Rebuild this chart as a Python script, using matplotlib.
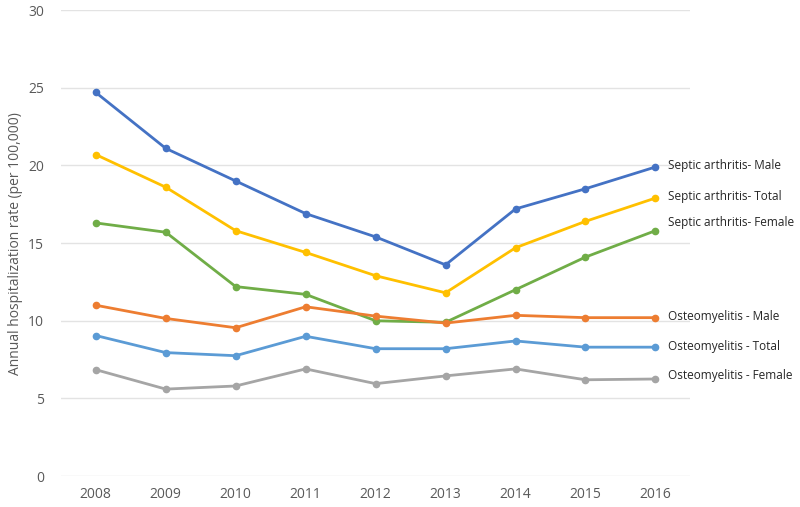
import matplotlib.pyplot as plt

plt.rcParams['font.family'] = ['Open Sans', 'DejaVu Sans']

# data
years = ['2008', '2009', '2010', '2011', '2012', '2013', '2014', '2015', '2016']
sa_male = [24.7, 21.1, 19.0, 16.9, 15.4, 13.6, 17.2, 18.5, 19.9]
sa_total = [20.7, 18.6, 15.8, 14.4, 12.9, 11.8, 14.7, 16.4, 17.9]
sa_female = [16.3, 15.7, 12.2, 11.7, 10.0, 9.9, 12.0, 14.1, 15.8]
os_male = [11.0, 10.15, 9.55, 10.9, 10.3, 9.85, 10.35, 10.2, 10.2]
os_total = [9.05, 7.95, 7.75, 9.0, 8.2, 8.2, 8.7, 8.3, 8.3]
os_female = [6.85, 5.6, 5.8, 6.9, 5.95, 6.45, 6.9, 6.2, 6.25]

names = ['Septic arthritis- Male', 'Septic arthritis- Total', 'Septic arthritis- Female',
         'Osteomyelitis - Male', 'Osteomyelitis - Total', 'Osteomyelitis - Female']
series = [sa_male, sa_total, sa_female, os_male, os_total, os_female]
colors = ['#4472C4', '#FFC000', '#70AD47', '#ED7D31', '#5B9BD5', '#A5A5A5']
label_y = [20.0, 18.0, 16.3, 10.25, 8.35, 6.5]

fig = plt.figure(figsize=(8, 5.07), dpi=100)
ax = fig.add_axes([0.076, 0.061, 0.787, 0.919])

x = list(range(len(years)))
for vals, c in zip(series, colors):
    ax.plot(x, vals, color=c, lw=2, marker='o', markersize=4.5, zorder=3)

for name, ly in zip(names, label_y):
    ax.text(8.18, ly, name, fontsize=8.5, color='#262626', va='center', ha='left', clip_on=False)

ax.set_xlim(-0.5, 8.5)
ax.set_ylim(0, 30)
ax.set_yticks(range(0, 31, 5))
ax.set_xticks(x)
ax.set_xticklabels(years)
ax.grid(axis='y', color='#E3E3E3', lw=1)
ax.set_axisbelow(True)
for s in ax.spines.values():
    s.set_visible(False)
ax.tick_params(length=0, colors='#595959', labelsize=10)
ax.tick_params(axis='y', pad=12)
ax.tick_params(axis='x', pad=8)
ax.set_ylabel('Annual hospitalization rate (per 100,000)', fontsize=10, color='#595959', labelpad=4)

fig.savefig('out.png', dpi=100)
